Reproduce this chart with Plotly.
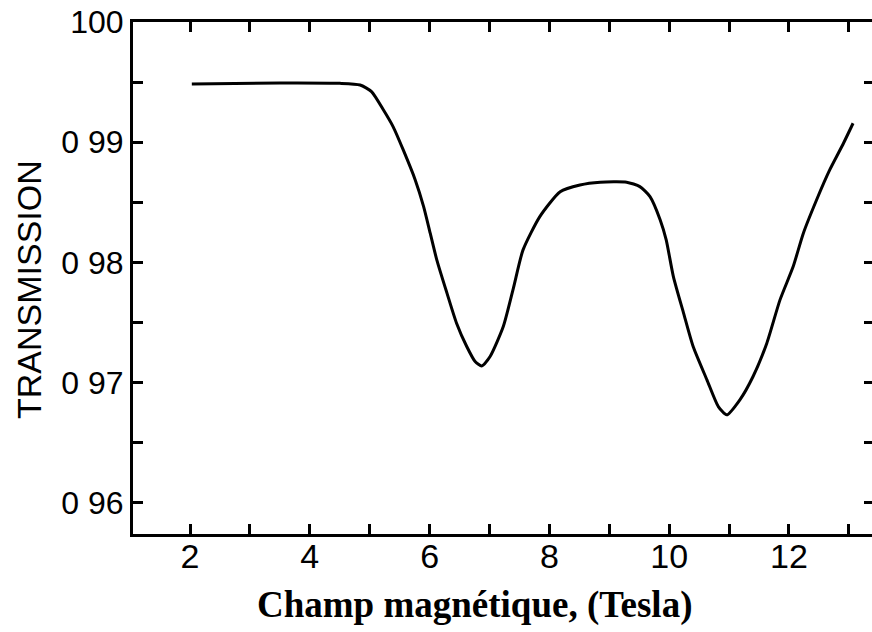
import plotly.graph_objects as go

# Data
field_tesla = [2.03, 3.50, 4.50, 4.84, 5.03, 5.23, 5.39, 5.56, 5.76, 5.90, 6.01, 6.12,
               6.29, 6.45, 6.62, 6.76, 6.87, 7.01, 7.23, 7.40, 7.56, 7.84, 8.18, 8.51,
               8.85, 9.29, 9.51, 9.68, 9.85, 9.95, 10.07, 10.24, 10.40, 10.63, 10.82,
               10.96, 11.18, 11.40, 11.63, 11.85, 12.07, 12.24, 12.46, 12.68, 12.91, 13.07]
transmission = [0.99485, 0.99493, 0.99490, 0.99476, 0.99421, 0.99268, 0.99130, 0.98936,
                0.98687, 0.98465, 0.98244, 0.98022, 0.97745, 0.97495, 0.97301, 0.97176,
                0.97140, 0.97218, 0.97467, 0.97789, 0.98105, 0.98382, 0.98589, 0.98645,
                0.98668, 0.98668, 0.98631, 0.98548, 0.98354, 0.98188, 0.97883, 0.97579,
                0.97301, 0.97024, 0.96802, 0.96733, 0.96858, 0.97052, 0.97329, 0.97689,
                0.97966, 0.98244, 0.98520, 0.98770, 0.98992, 0.99158]

x_tick_vals = [2, 4, 6, 8, 10, 12]
x_tick_text = ["2", "4", "6", "8", "10", "12"]
y_tick_vals = [0.96, 0.97, 0.98, 0.99, 1.00]
y_tick_text = ["0 96", "0 97", "0 98", "0 99", "100"]
y_right_ticks = [0.96, 0.965, 0.97, 0.975, 0.98, 0.985, 0.99, 0.995]

x_title = "Champ magnétique, (Tesla)"
y_title = "TRANSMISSION"

x_range = [1.048, 13.386]
y_range = [0.95742, 1.0]

fig = go.Figure()
fig.add_trace(go.Scatter(x=field_tesla, y=transmission, mode="lines",
                         line=dict(color="black", width=3, shape="spline", smoothing=0.6),
                         showlegend=False, hoverinfo="skip"))
# invisible trace to activate the right-hand tick axis
fig.add_trace(go.Scatter(x=[field_tesla[0]], y=[transmission[0]], yaxis="y2",
                         mode="markers", marker=dict(opacity=0), showlegend=False,
                         hoverinfo="skip"))

tick_font = dict(family="Liberation Sans, Arial, sans-serif", color="black")

fig.update_layout(
    width=872, height=632,
    margin=dict(l=133, r=0, t=22, b=98),
    paper_bgcolor="white", plot_bgcolor="white",
    xaxis=dict(
        range=x_range, tickvals=x_tick_vals, ticktext=x_tick_text,
        ticks="inside", ticklen=10, tickwidth=3, tickcolor="black",
        minor=dict(dtick=1, tick0=0, ticks="inside", ticklen=10, tickwidth=3, tickcolor="black"),
        showline=True, linewidth=3, linecolor="black", mirror="ticks",
        showgrid=False, zeroline=False,
        tickfont=dict(size=34, **tick_font), ticklabelstandoff=-10,
    ),
    yaxis=dict(
        range=y_range, tickvals=y_tick_vals, ticktext=y_tick_text,
        ticks="inside", ticklen=10, tickwidth=3, tickcolor="black",
        minor=dict(dtick=0.005, tick0=0.96, ticks="inside", ticklen=10, tickwidth=3, tickcolor="black"),
        showline=True, linewidth=3, linecolor="black", mirror=False,
        showgrid=False, zeroline=False,
        tickfont=dict(size=32, **tick_font), ticklabelstandoff=0,
    ),
    yaxis2=dict(
        range=y_range, overlaying="y", side="right", tickvals=y_right_ticks,
        ticks="inside", ticklen=8, tickwidth=3, tickcolor="black",
        showticklabels=False, showline=False, showgrid=False, zeroline=False,
    ),
    annotations=[
        dict(text=x_title, xref="paper", yref="paper", x=(474 - 133) / 739, y=-(605 - 534) / 512,
             xanchor="center", yanchor="middle", showarrow=False,
             font=dict(family="Times New Roman, Liberation Serif, serif", size=37,
                       color="black", weight="bold")),
        dict(text=y_title, xref="paper", yref="paper", x=-(133 - 29) / 739, y=(534 - 290) / 512,
             xanchor="center", yanchor="middle", showarrow=False, textangle=-90,
             font=dict(size=34, **tick_font)),
    ],
)

fig.write_html("out.html")
